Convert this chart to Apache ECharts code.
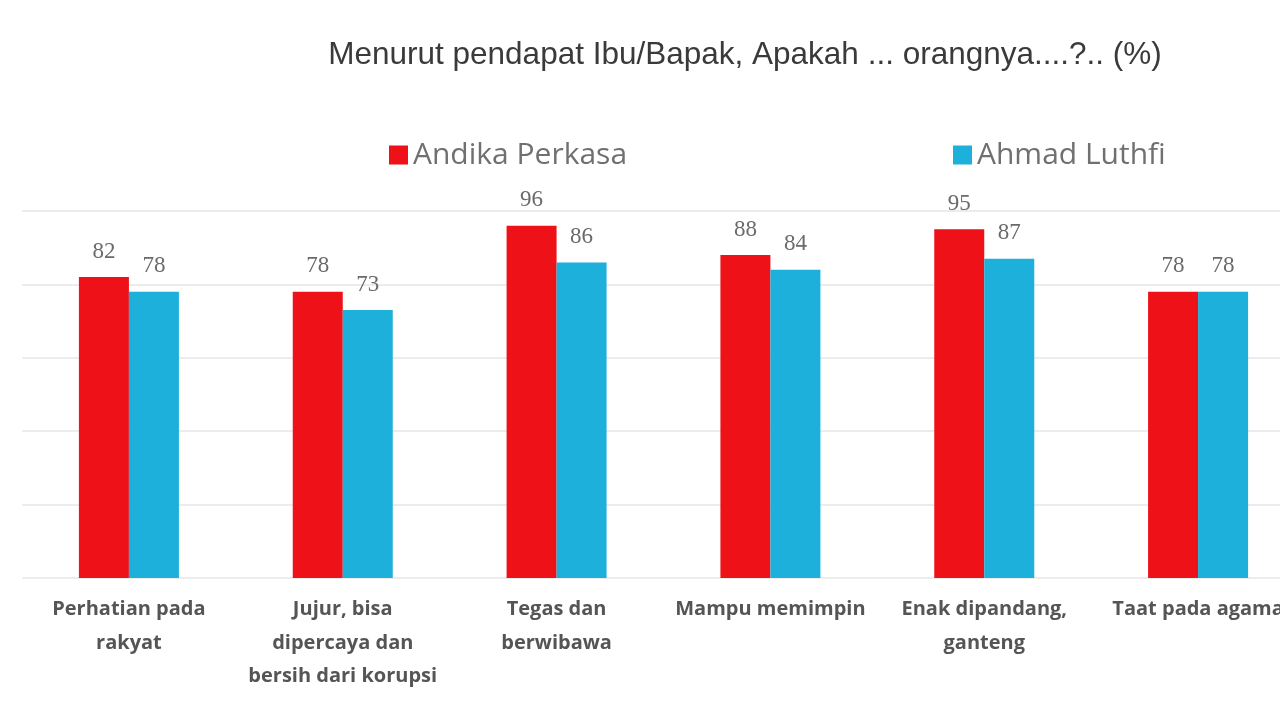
<!DOCTYPE html>
<html><head><meta charset="utf-8">
<script src="https://cdn.jsdelivr.net/npm/echarts@6/dist/echarts.min.js"></script>
<style>html,body{margin:0;padding:0;background:#fff}#c{width:1280px;height:720px}</style>
</head><body><div id="c"></div>
<script>
const categories = ["Perhatian pada\nrakyat", "Jujur, bisa\ndipercaya dan\nbersih dari korupsi", "Tegas dan\nberwibawa", "Mampu memimpin", "Enak dipandang,\nganteng", "Taat pada agama"];
const andika = [82, 78, 96, 88, 95, 78];
const luthfi = [78, 73, 86, 84, 87, 78];
const seriesNames = ["Andika Perkasa", "Ahmad Luthfi"];
const titleText = "Menurut pendapat Ibu/Bapak, Apakah ... orangnya....?.. (%)";

const chart = echarts.init(document.getElementById('c'));
const labelStyle = {show: true, position: 'top', distance: 14, color: '#6a6a6a', fontFamily: 'Liberation Serif', fontSize: 23};
chart.setOption({
  animation: false,
  title: {text: titleText, left: 740, textAlign: 'center', top: 34,
    textStyle: {fontFamily: "'Liberation Sans'", fontWeight: 'normal', fontSize: 31.5, color: '#3a3a3a'}},
  legend: [
    {data: [seriesNames[0]], left: 384, top: 135, itemWidth: 19, itemHeight: 19, icon: 'rect', itemGap: 10,
      textStyle: {fontFamily: "'Open Sans'", fontSize: 30, color: '#707070'}},
    {data: [seriesNames[1]], left: 948, top: 135, itemWidth: 19, itemHeight: 19, icon: 'rect',
      textStyle: {fontFamily: "'Open Sans'", fontSize: 30, color: '#707070'}}
  ],
  grid: {left: 22, width: 1283, top: 211, height: 367, containLabel: false, outerBoundsMode: 'none'},
  xAxis: {type: 'category', data: categories,
    axisLine: {show: false}, axisTick: {show: false},
    axisLabel: {interval: 0, margin: 15, lineHeight: 33.5, fontFamily: "'Open Sans'", fontWeight: 'bold', fontSize: 20, color: '#555', align: 'center'}},
  yAxis: {type: 'value', min: 0, max: 100, interval: 20,
    axisLabel: {show: false}, axisLine: {show: false}, axisTick: {show: false},
    splitLine: {lineStyle: {color: '#e6e6e6', width: 1.5}}},
  series: [
    {name: seriesNames[0], type: 'bar', data: andika, barWidth: 50, barGap: '0%', itemStyle: {color: '#EE1218'}, label: labelStyle},
    {name: seriesNames[1], type: 'bar', data: luthfi, barWidth: 50, itemStyle: {color: '#1DB0DA'}, label: labelStyle}
  ]
});
</script></body></html>
